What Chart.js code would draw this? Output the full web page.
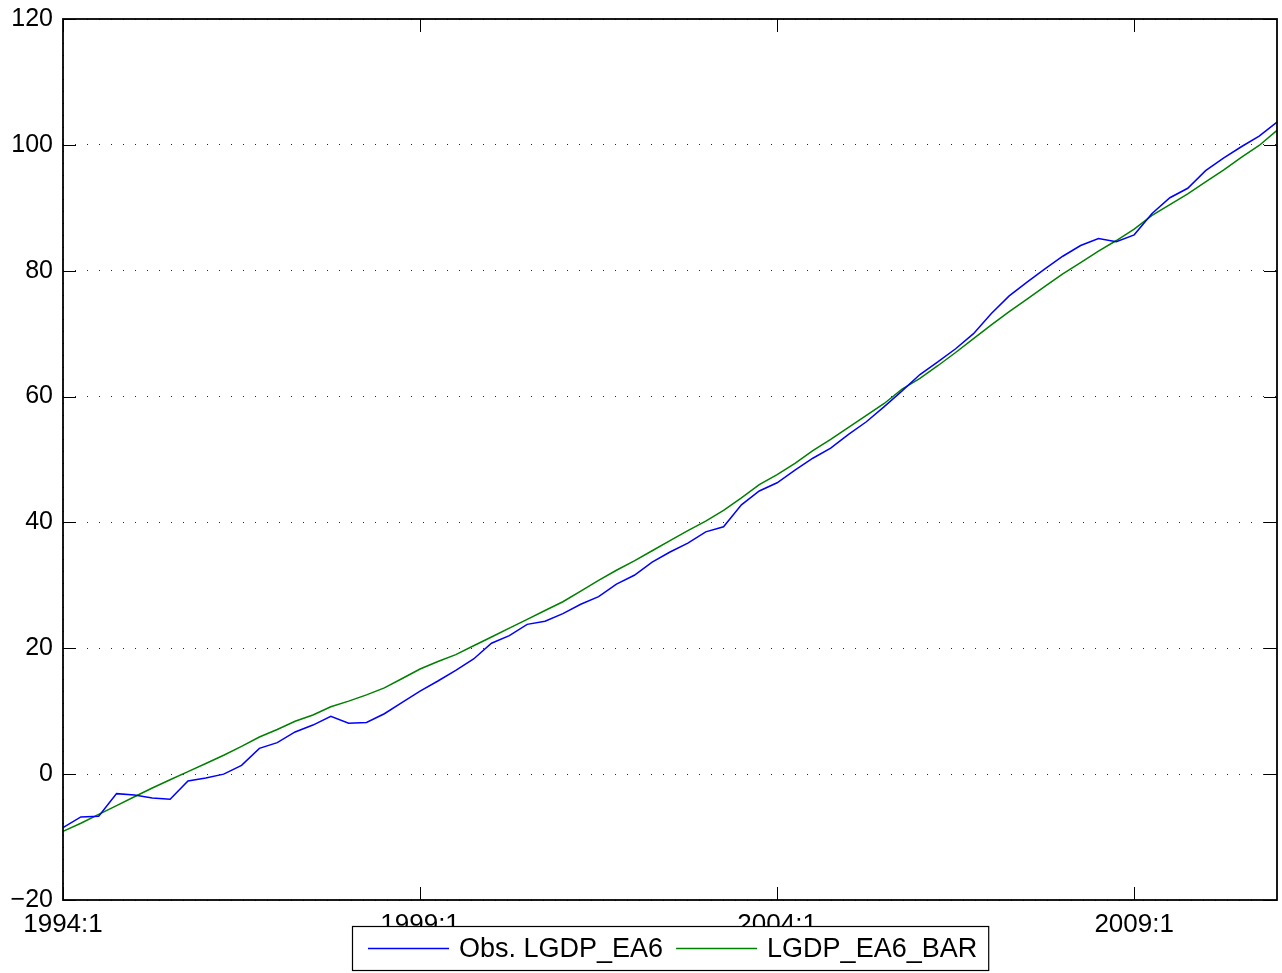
<!DOCTYPE html>
<html>
<head>
<meta charset="utf-8">
<title>LGDP_EA6</title>
<script src="https://cdn.jsdelivr.net/npm/chart.js@4"></script>
<style>
  html, body { margin: 0; padding: 0; background: #fff; }
  canvas { display: block; }
</style>
</head>
<body>
<canvas id="lgdp" width="1282" height="973"></canvas>
<script>
"use strict";

// quarterly sample 1994:1 .. 2011:1
const startYear = 1994;
const nQuarters = 69;
const quarterLabels = [];
for (let i = 0; i < nQuarters; i++) {
    quarterLabels.push((startYear + Math.floor(i / 4)) + ':' + (i % 4 + 1));
}

const xTickLabels = ['1994:1', '1999:1', '2004:1', '2009:1'];
const yTicks = [-20, 0, 20, 40, 60, 80, 100, 120];

// observed series
const obsLgdp = [
    -8.5, -6.8, -6.7, -3.1, -3.3, -3.8, -4.0, -1.1, -0.6, 0.0,
    1.4, 4.1, 5.0, 6.7, 7.8, 9.2, 8.1, 8.2, 9.6, 11.4,
    13.2, 14.8, 16.5, 18.3, 20.8, 22.0, 23.8, 24.3, 25.5, 27.0,
    28.2, 30.2, 31.6, 33.7, 35.3, 36.7, 38.5, 39.3, 42.8, 45.0,
    46.3, 48.3, 50.2, 51.8, 54.0, 56.0, 58.4, 60.9, 63.5, 65.5,
    67.6, 70.0, 73.2, 76.0, 78.2, 80.3, 82.3, 84.0, 85.1, 84.6,
    85.7, 89.1, 91.6, 93.1, 95.9, 97.9, 99.7, 101.4, 103.6
];

// trend (BAR) series
const barLgdp = [
    -9.1, -7.8, -6.4, -5.0, -3.6, -2.2, -0.9, 0.4, 1.7, 3.0,
    4.4, 5.9, 7.1, 8.4, 9.4, 10.7, 11.6, 12.6, 13.7, 15.2,
    16.7, 17.9, 19.0, 20.4, 21.8, 23.2, 24.6, 26.0, 27.4, 29.1,
    30.8, 32.4, 33.9, 35.5, 37.1, 38.7, 40.2, 41.9, 43.9, 46.0,
    47.6, 49.4, 51.4, 53.2, 55.1, 57.0, 58.9, 61.2, 62.9, 64.9,
    67.0, 69.2, 71.4, 73.5, 75.5, 77.5, 79.5, 81.3, 83.1, 84.8,
    86.6, 88.8, 90.5, 92.2, 94.1, 96.0, 98.0, 99.9, 102.3
];

const seriesNames = ['Obs. LGDP_EA6', 'LGDP_EA6_BAR'];
const seriesColors = ['#0000ff', '#008000'];

const FONT = "'Liberation Sans', Arial, Helvetica, sans-serif";
const dotColor = 'rgba(0, 0, 0, 0.85)';
const tickLen = 13;

// box, inner tick marks and the legend drawn over the bottom labels
const matlabAxes = {
    id: 'matlabAxes',
    afterDraw(chart) {
        const { ctx, chartArea: a, scales: { x, y } } = chart;
        ctx.save();
        ctx.strokeStyle = '#000';
        ctx.lineWidth = 1;
        ctx.beginPath();
        yTicks.forEach(v => {
            const py = Math.round(y.getPixelForValue(v)) + 0.5;
            ctx.moveTo(a.left, py); ctx.lineTo(a.left + tickLen, py);
            ctx.moveTo(a.right, py); ctx.lineTo(a.right - tickLen, py);
        });
        xTickLabels.forEach(l => {
            const px = Math.round(x.getPixelForValue(quarterLabels.indexOf(l))) + 0.5;
            ctx.moveTo(px, a.bottom); ctx.lineTo(px, a.bottom - tickLen);
            ctx.moveTo(px, a.top); ctx.lineTo(px, a.top + tickLen);
        });
        ctx.stroke();

        ctx.lineWidth = 1.8;
        ctx.strokeRect(a.left, a.top, a.right - a.left, a.bottom - a.top);

        // legend
        ctx.font = '27px ' + FONT;
        const lineLen = 81, padL = 16, padR = 11, gapLine = 10, gapItem = 13;
        const widths = seriesNames.map(s => ctx.measureText(s).width);
        let boxW = padL + padR;
        widths.forEach((w, i) => { boxW += lineLen + gapLine + w + (i ? 0 : gapItem); });
        const boxH = 44;
        const boxX = Math.round((a.left + a.right) / 2 - boxW / 2);
        const boxY = chart.height - 3 - boxH;
        ctx.fillStyle = '#fff';
        ctx.fillRect(boxX, boxY, boxW, boxH);
        ctx.lineWidth = 1.2;
        ctx.strokeRect(boxX + 0.5, boxY + 0.5, boxW, boxH);

        const cy = boxY + boxH / 2 + 0.5;
        let cx = boxX + padL;
        ctx.textBaseline = 'middle';
        ctx.textAlign = 'left';
        seriesNames.forEach((s, i) => {
            ctx.strokeStyle = seriesColors[i];
            ctx.lineWidth = 1.3;
            ctx.beginPath();
            ctx.moveTo(cx, cy); ctx.lineTo(cx + lineLen, cy);
            ctx.stroke();
            cx += lineLen + gapLine;
            ctx.fillStyle = '#000';
            ctx.fillText(s, cx, cy + 1);
            cx += widths[i] + gapItem;
        });
        ctx.restore();
    }
};

new Chart(document.getElementById('lgdp'), {
    type: 'line',
    data: {
        labels: quarterLabels,
        datasets: [
            {
                label: seriesNames[0],
                data: obsLgdp,
                borderColor: seriesColors[0],
                borderWidth: 1.5,
                pointRadius: 0,
                tension: 0,
                fill: false
            },
            {
                label: seriesNames[1],
                data: barLgdp,
                borderColor: seriesColors[1],
                borderWidth: 1.5,
                pointRadius: 0,
                tension: 0,
                fill: false
            }
        ]
    },
    options: {
        responsive: false,
        animation: false,
        layout: { padding: { top: 19, right: 5, left: 0, bottom: 0 } },
        plugins: {
            legend: { display: false },
            tooltip: { enabled: false }
        },
        scales: {
            x: {
                type: 'category',
                offset: false,
                grid: {
                    drawTicks: false,
                    lineWidth: 1,
                    color: c => xTickLabels.includes(quarterLabels[c.index]) ? dotColor : 'transparent'
                },
                border: { display: false, dash: [1, 11] },
                ticks: {
                    autoSkip: false,
                    maxRotation: 0,
                    minRotation: 0,
                    padding: 9,
                    color: '#000',
                    font: { family: FONT, size: 26 },
                    callback: function(v) {
                        const l = this.getLabelForValue(v);
                        return xTickLabels.includes(l) ? l : null;
                    }
                },
                afterFit: s => { s.height = 73; s.paddingLeft = 0; s.paddingRight = 0; }
            },
            y: {
                min: -20,
                max: 120,
                grid: { drawTicks: false, lineWidth: 1, color: dotColor },
                border: { display: false, dash: [1, 11] },
                ticks: {
                    stepSize: 20,
                    padding: 10,
                    color: '#000',
                    font: { family: FONT, size: 25 },
                    callback: v => String(v).replace('-', '\u2212')
                },
                afterFit: s => { s.width = 63; s.paddingTop = 0; s.paddingBottom = 0; }
            }
        }
    },
    plugins: [matlabAxes]
});
</script>
</body>
</html>
